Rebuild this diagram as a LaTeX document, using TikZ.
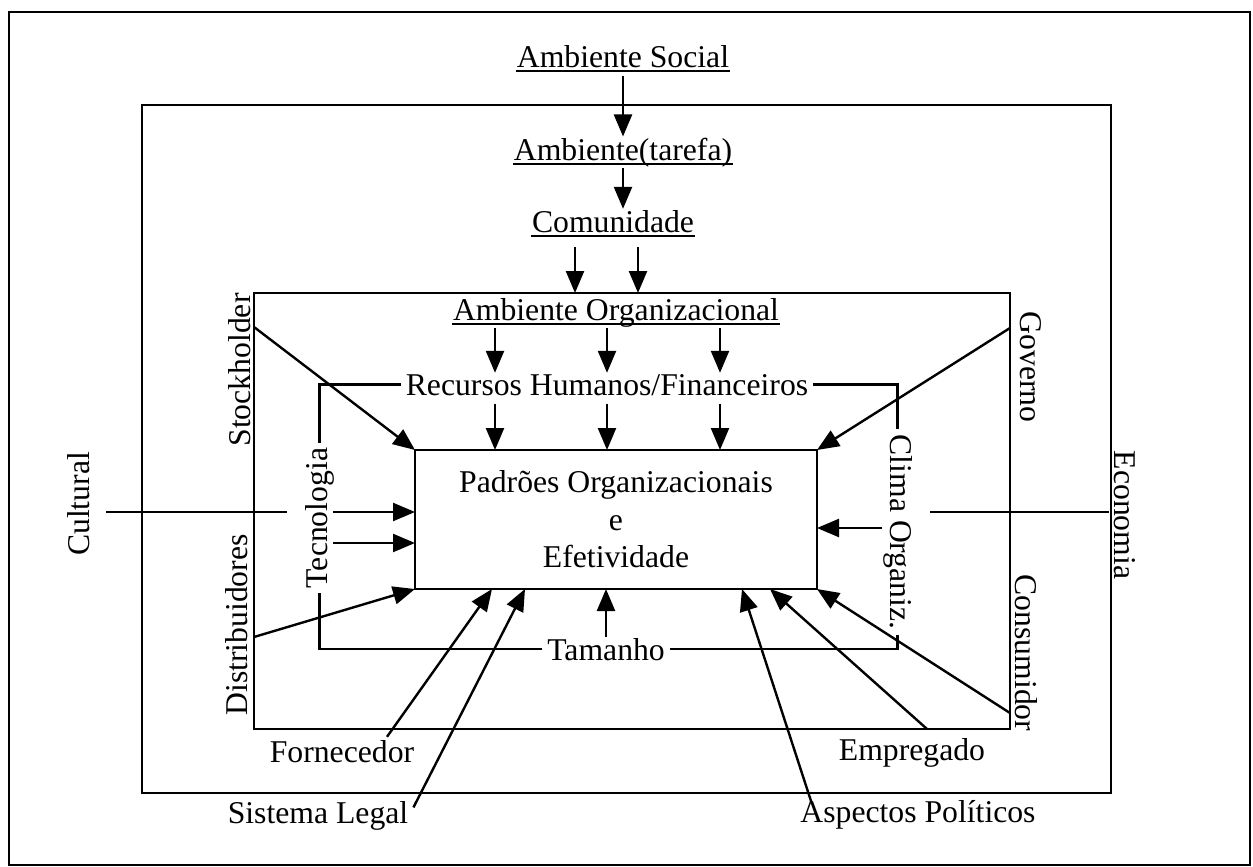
\documentclass[tikz,border=0pt]{standalone}
\usepackage{fontspec}
\setmainfont{Liberation Serif}
\usetikzlibrary{arrows.meta}
\begin{document}
\begin{tikzpicture}[x=0.5pt,y=-0.5pt,
  line width=1.2pt,
  lbl/.style={inner sep=0pt, font=\fontsize{15.85}{18.7}\selectfont},
  box/.style={draw, inner sep=0pt, outer sep=0pt, line width=1.3pt},
  arr/.style={-{Triangle[length=11pt,width=9pt]}},
  uline/.style={line width=1pt}
]
\useasboundingbox (0,0) rectangle (1253,867);

% nested environments
\node[box, minimum width=620.5pt, minimum height=426.5pt] (social) at (629.5,438.5) {};
\node[box, minimum width=484.5pt, minimum height=344pt] (task) at (626.5,449) {};
\node[box, minimum width=378pt, minimum height=218pt] (org) at (632,511) {};
\node[box, lbl, minimum width=201pt, minimum height=69.5pt, align=center] (pad) at (616,519.5)
  {Padrões Organizacionais\\e\\Efetividade};

% horizontal labels
\node[lbl, anchor=base] (as)  at (623,67)  {Ambiente Social};
\node[lbl, anchor=base] (at)  at (623,160) {Ambiente(tarefa)};
\node[lbl, anchor=base] (com) at (613,232) {Comunidade};
\node[lbl, anchor=base] (ao)  at (616,320) {Ambiente Organizacional};
\node[lbl, anchor=base, inner xsep=2pt] (rec) at (607,395) {Recursos Humanos/Financeiros};
\node[lbl, anchor=base, inner xsep=2pt] (tam) at (606,660) {Tamanho};
\node[lbl, anchor=base] (forn) at (342,762) {Fornecedor};
\node[lbl, anchor=base] (sis)  at (318,823) {Sistema Legal};
\node[lbl, anchor=base] (emp)  at (912,760) {Empregado};
\node[lbl, anchor=base] (asp)  at (918,822) {Aspectos Políticos};

% vertical labels
\node[lbl, anchor=base, rotate=90, inner xsep=2pt] (tec) at (327,518) {Tecnologia};
\node[lbl, anchor=base, rotate=-90, inner xsep=2pt] (clima) at (890,532) {Clima Organiz.};
\node[lbl, anchor=base, rotate=90]  (stock) at (250,370)  {Stockholder};
\node[lbl, anchor=base, rotate=90]  (dist)  at (247,625)  {Distribuidores};
\node[lbl, anchor=base, rotate=-90] (gov)   at (1020,367) {Governo};
\node[lbl, anchor=base, rotate=-90] (cons)  at (1015,653) {Consumidor};
\node[lbl, anchor=base, rotate=90]  (cul)   at (89,504)   {Cultural};
\node[lbl, anchor=base, rotate=-90] (eco)   at (1114,515) {Economia};

% underlines
\foreach \n in {as,at,com,ao}
  \draw[uline] ([yshift=-2pt]\n.base west) -- ([yshift=-2pt]\n.base east);

% top chain
\draw[arr] (as.base) ++(0,9) -- (at.north);
\draw[arr] (at.base) ++(0,8) -- (at.base |- com.north);
\draw[arr] (com.base -| 575,0) ++(0,15) -- (org.north -| 575,0);
\draw[arr] (com.base -| 638,0) ++(0,15) -- (org.north -| 638,0);
\foreach \x in {495,607,720} {
  \draw[arr] (ao.south -| \x,0) -- (rec.north -| \x,0);
  \draw[arr] (rec.south -| \x,0) ++(0,7) -- (pad.north -| \x,0);
}

% bracket of internal factors
\draw (rec.west) -| (tec.east);
\draw (rec.east) -| (clima.west);
\draw (tam.west) -| (tec.west);
\draw (tam.east) -| (clima.east);

% side inputs
\coordinate (culA) at (106,512);
\coordinate (culB) at (287,512);
\coordinate (tecA) at (333,512);
\coordinate (tecB) at (333,543);
\coordinate (ecoA) at (930,512);
\coordinate (ecoB) at (1109,512);
\coordinate (climA) at (882,528);
\draw (culA) -- (culB);
\draw[arr] (tecA) -- (pad.west |- tecA);
\draw[arr] (tecB) -- (pad.west |- tecB);
\draw (ecoA) -- (ecoB);
\draw[arr] (climA) -- (pad.east |- climA);
\draw[arr] (tam.north) -- (tam.north |- pad.south);

% diagonal inputs
\draw[arr] (org.west |- 0,327) -- (pad.north west);
\draw[arr] (org.east |- 0,328) -- (pad.north east);
\draw[arr] (org.west |- 0,637) -- (pad.south west);
\draw[arr] (org.east |- 0,713) -- (pad.south east);
\draw[arr] (org.south -| 927,0) -- (pad.south -| 770,0);
\draw[arr] (asp.north west) ++(12,3) -- (pad.south -| 742,0);
\draw[arr] (forn.north) ++(45,-2) -- (pad.south -| 492,0);
\draw[arr] (sis.east) ++(4,-8) -- (pad.south -| 525,0);
\end{tikzpicture}
\end{document}
